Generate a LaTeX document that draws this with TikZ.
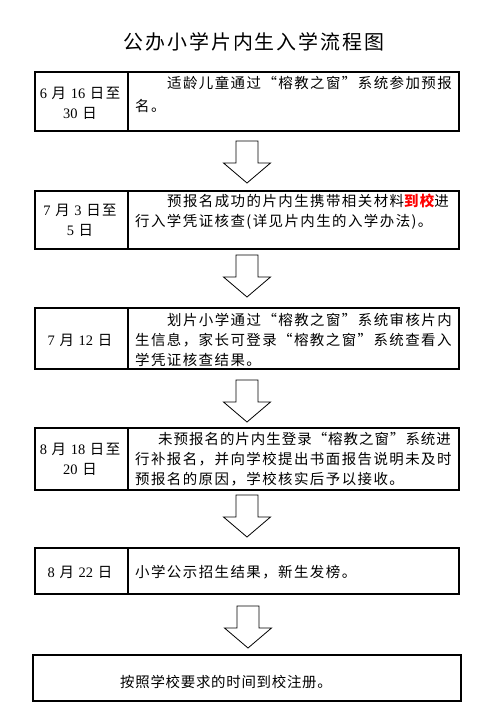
\documentclass[tikz,border=0pt]{standalone}
\usepackage{fontspec}
\setmainfont{Liberation Serif}
\newfontfamily\cjk[LetterSpace=10]{Noto Sans CJK SC}
\newfontfamily\cjkm[LetterSpace=7]{Noto Sans CJK SC}
\newfontfamily\cjkn[LetterSpace=5]{Noto Sans CJK SC}
\newcommand\dg[1]{{\rmfamily #1}}
\begin{document}
\begin{tikzpicture}[x=1bp,y=-1bp,
  box/.style={draw,line width=1.1bp,rectangle,inner sep=0},
  txt/.style={inner sep=0,anchor=west,font=\cjk\fontsize{14.5}{20}\selectfont,align=left},
  datetxt/.style={inner sep=0,font=\cjk\fontsize{14.5}{20}\selectfont,align=center},
  divline/.style={line width=1.1bp},
  blk/.style={draw,line width=0.8bp,fill=white,line join=miter},
  downarr/.pic={\draw[blk] (-11,0) -- (11,0) -- (11,22) -- (23.5,22) -- (0,42) -- (-23.5,22) -- (-11,22) -- cycle;}]
\useasboundingbox (0,0) rectangle (497,722);
\node[inner sep=0,font=\cjk\fontsize{20}{24}\selectfont] (title) at (254,42) {公办小学片内生入学流程图};
% boxes
\node[box,minimum width=424bp,minimum height=59bp] (b1) at (247,101.5) {};
\node[box,minimum width=424bp,minimum height=58bp] (b2) at (247,220) {};
\node[box,minimum width=424bp,minimum height=61bp] (b3) at (247,338.5) {};
\node[box,minimum width=424bp,minimum height=62bp] (b4) at (247,459) {};
\node[box,minimum width=424bp,minimum height=46bp] (b5) at (247,571) {};
\node[box,minimum width=428bp,minimum height=46bp] (b6) at (247,678) {};
\coordinate (dv) at (128,0);
\foreach \b in {b1,b2,b3,b4,b5} \draw[divline] (\b.north -| dv) -- (\b.south -| dv);
% arrows
\pic at (247,141) {downarr};
\pic at (247,255) {downarr};
\pic at (247,380) {downarr};
\pic at (247,495) {downarr};
\pic at (248,606) {downarr};
% dates
\node[datetxt] (d1) at (80,103) {\dg{6} 月 \dg{16} 日至\\\dg{30} 日};
\node[datetxt] (d2) at (80,220.5) {\dg{7} 月 \dg{3} 日至\\\dg{5} 日};
\node[datetxt] (d3) at (80,340) {\dg{7} 月 \dg{12} 日};
\node[datetxt] (d4) at (80,459.5) {\dg{8} 月 \dg{18} 日至\\\dg{20} 日};
\node[datetxt] (d5) at (80,572) {\dg{8} 月 \dg{22} 日};
% descriptions
\node[txt,font=\cjk\fontsize{14.5}{23}\selectfont] (t1) at (135,94.5) {\hspace*{32bp}适龄儿童通过“榕教之窗”系统参加预报\\名。};
\node[txt] (t2) at (135,212) {\hspace*{32bp}预报名成功的片内生携带相关材料{\color{red}\bfseries 到校}进\\行入学凭证核查(详见片内生的入学办法)。};
\node[txt] (t3) at (135,340) {\hspace*{32bp}划片小学通过“榕教之窗”系统审核片内\\生信息，家长可登录“榕教之窗”系统查看入\\学凭证核查结果。};
\node[txt] (t4) at (135,459.5) {\hspace*{23bp}{\cjkm 未预报名的片内生登录“榕教之窗”系统进}\\行补报名，并向学校提出书面报告说明未及时\\预报名的原因，学校核实后予以接收。};
\node[txt] (t5) at (135,572) {小学公示招生结果，新生发榜。};
\node[txt,font=\cjkn\fontsize{14.5}{20}\selectfont] (t6) at (120,682) {按照学校要求的时间到校注册。};
\end{tikzpicture}
\end{document}
